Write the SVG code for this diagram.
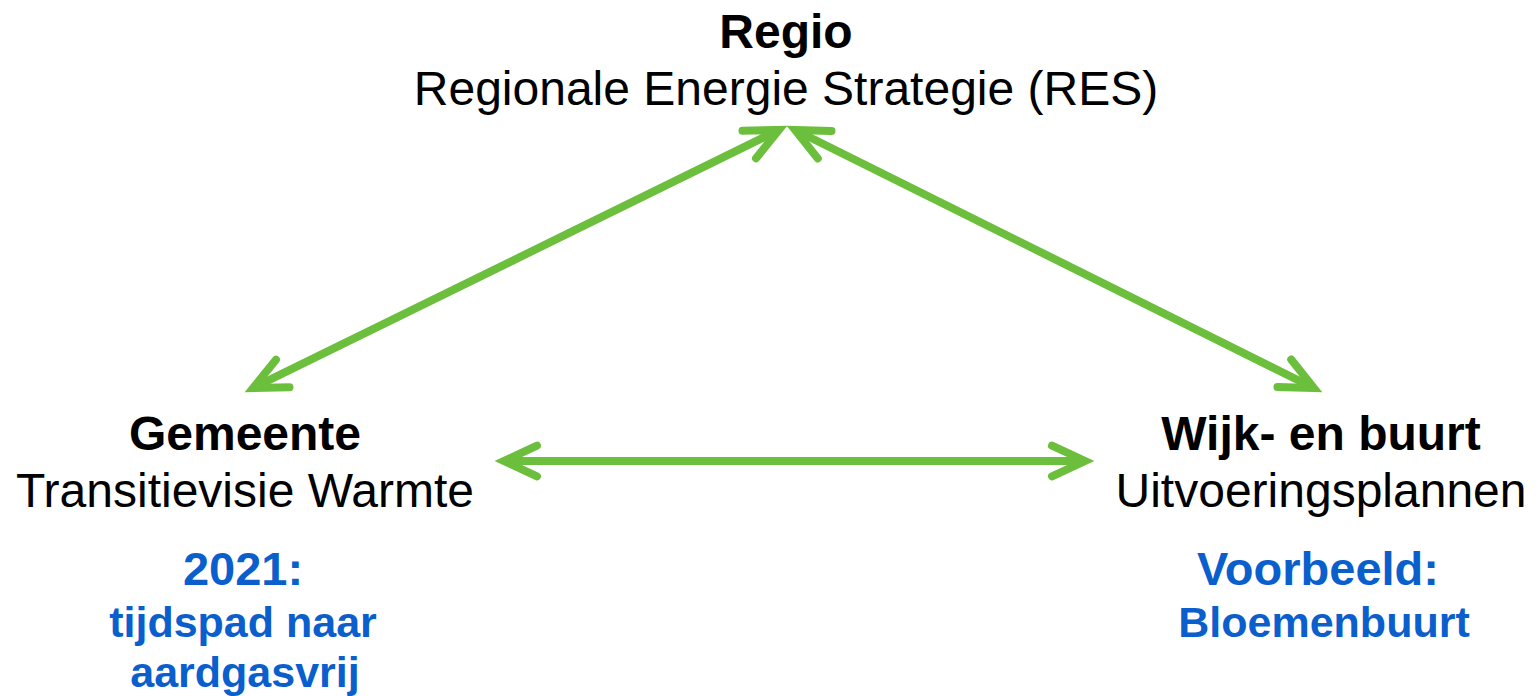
<svg xmlns="http://www.w3.org/2000/svg" width="1536" height="696" viewBox="0 0 1536 696">
<style>
.t{font-family:"Liberation Sans",Arial,sans-serif;text-anchor:middle;fill:#000}
.b{font-weight:bold}
.h{font-size:48px}
.blue{fill:#0a5fcd;font-weight:bold}
.bh{font-size:47px}
.bs{font-size:43px}
.conn{stroke:#6cbf3d;stroke-width:8;fill:none}
</style>
<defs>
<marker id="ah" markerUnits="userSpaceOnUse" orient="auto-start-reverse" refX="0" refY="0" markerWidth="80" markerHeight="80" overflow="visible">
<path d="M-33,-15.4 L0,0 L-33,15.4" fill="none" stroke="#6cbf3d" stroke-width="8" stroke-linecap="round" stroke-linejoin="miter"/>
</marker>
</defs>
<rect width="1536" height="696" fill="#fff"/>
<g id="connectors">
<line class="conn" x1="253.1" y1="388" x2="778.9" y2="130" marker-start="url(#ah)" marker-end="url(#ah)"/>
<line class="conn" x1="795.1" y1="130" x2="1313.9" y2="388" marker-start="url(#ah)" marker-end="url(#ah)"/>
<line class="conn" x1="504" y1="461" x2="1085" y2="461" marker-start="url(#ah)" marker-end="url(#ah)"/>
</g>
<g id="regio">
<text class="t b h" x="786" y="48">Regio</text>
<text class="t h" x="786" y="105">Regionale Energie Strategie (RES)</text>
</g>
<g id="gemeente">
<text class="t b h" x="245" y="450">Gemeente</text>
<text class="t h" x="245" y="507">Transitievisie Warmte</text>
<text class="t blue bh" x="243" y="585">2021:</text>
<text class="t blue bs" x="243" y="637">tijdspad naar</text>
<text class="t blue bs" x="245" y="687">aardgasvrij</text>
</g>
<g id="wijk">
<text class="t b h" x="1321" y="450">Wijk- en buurt</text>
<text class="t h" x="1321" y="507">Uitvoeringsplannen</text>
<text class="t blue bh" x="1318" y="585">Voorbeeld:</text>
<text class="t blue bs" x="1324" y="637">Bloemenbuurt</text>
</g>
</svg>
